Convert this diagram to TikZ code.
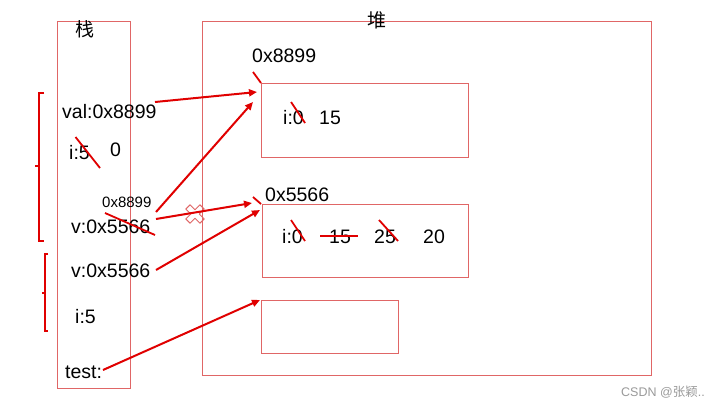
\documentclass[tikz,border=0pt]{standalone}
\usepackage{fontspec}
\setmainfont{Liberation Sans}
\newfontfamily\cjk{Noto Sans CJK SC}
\usetikzlibrary{arrows.meta}
\definecolor{boxred}{HTML}{E06666}
\definecolor{penred}{HTML}{E00000}
\definecolor{wmgray}{HTML}{9A9A9A}
\begin{document}
\begin{tikzpicture}[x=1pt,y=-1pt,
  frame/.style={draw=boxred,line width=1.1pt},
  txt/.style={anchor=west,inner sep=0pt,font=\fontsize{19.5}{20}\selectfont},
  smalltxt/.style={anchor=west,inner sep=0pt,font=\fontsize{15}{16}\selectfont},
  cjktxt/.style={inner sep=0pt,font=\cjk\fontsize{19}{20}\selectfont},
  ptr/.style={draw=penred,line width=2pt,-{Triangle[length=8pt,width=7pt]}},
  strike/.style={draw=penred,line width=1.8pt},
  brk/.style={draw=penred,line width=2pt}]
\useasboundingbox[fill=white] (0,0) rectangle (720,407);

% cross mark
\begin{scope}[shift={(195,214)},rotate=45]
  \draw[boxred,line width=1pt,fill=white,line join=round]
    (3,3)--(3,10)--(-3,10)--(-3,3)--(-10,3)--(-10,-3)--(-3,-3)--(-3,-10)--(3,-10)--(3,-3)--(10,-3)--(10,3)--cycle;
\end{scope}

% frames
\node[frame,inner sep=0pt,minimum width=73pt,minimum height=367pt,anchor=north west] (stack) at (57,21) {};
\node[frame,inner sep=0pt,minimum width=449pt,minimum height=354pt,anchor=north west] (heap) at (202,21) {};
\node[frame,inner sep=0pt,minimum width=207pt,minimum height=74pt,anchor=north west] (box1) at (261,83) {};
\node[frame,inner sep=0pt,minimum width=206pt,minimum height=73pt,anchor=north west] (box2) at (262,204) {};
\node[frame,inner sep=0pt,minimum width=137pt,minimum height=53pt,anchor=north west] (box3) at (261,300) {};

% titles
\node[cjktxt] (tstack) at (85,29) {栈};
\node[cjktxt] (theap) at (377,20) {堆};

% stack texts
\node[txt] (val) at (62,112) {val:0x8899};
\node[txt] (i5a) at (69,153) {i:5};
\node[txt] (zero) at (110,150) {0};
\node[smalltxt] (small) at (102,202) {0x8899};
\node[txt] (v1) at (71,227) {v:0x5566};
\node[txt] (v2) at (71,271) {v:0x5566};
\node[txt] (i5b) at (75,317) {i:5};
\node[txt] (test) at (65,372) {test:};

% heap texts
\node[txt] (a1) at (252,56) {0x8899};
\node[txt] (a2) at (265,195) {0x5566};
\node[txt] (b1i) at (283,118) {i:0};
\node[txt] (b1v) at (319,118) {15};
\node[txt] (b2i) at (282,237) {i:0};
\node[txt] (b2v1) at (329,237) {15};
\node[txt] (b2v2) at (374,237) {25};
\node[txt] (b2v3) at (423,237) {20};

% watermark
\node[anchor=west,inner sep=0pt,text=wmgray,font=\fontsize{12.5}{13}\selectfont] (wm) at (621,392) {CSDN @{\cjk 张颖}..};

% brackets
\draw[brk] (44,93) -- (39,93) -- (39,241) -- (44,241);
\draw[brk] (39,166) -- (35,166);
\draw[brk] (48,254) -- (45,254) -- (45,331) -- (48,331);
\draw[brk] (45,293) -- (42,293);

% strikes
\draw[strike] (75.5,137) -- (100,168);
\draw[strike] (105,213) -- (155,235);
\draw[strike] (253,72) -- (261,83);
\draw[strike] (253,197) -- (261,204);
\draw[strike] (291,102) -- (305,123);
\draw[strike] (291,220) -- (305,241);
\draw[strike] (320,236) -- (358,236);
\draw[strike] (379,220) -- (398,241);

% pointer coordinates
\coordinate (e1) at (257,92);
\coordinate (e2) at (253,102);
\coordinate (e3) at (252,203);
\coordinate (e4) at (260,210);
\coordinate (e5) at (260,300);
\coordinate (s1) at (155,102);
\coordinate (s2) at (156,212);
\coordinate (s3) at (156,219);
\coordinate (s4) at (156,270);
\coordinate (s5) at (103,370);

\draw[ptr] (s1) -- (e1);
\draw[ptr] (s2) -- (e2);
\draw[ptr] (s3) -- (e3);
\draw[ptr] (s4) -- (e4);
\draw[ptr] (s5) -- (e5);
\end{tikzpicture}
\end{document}
